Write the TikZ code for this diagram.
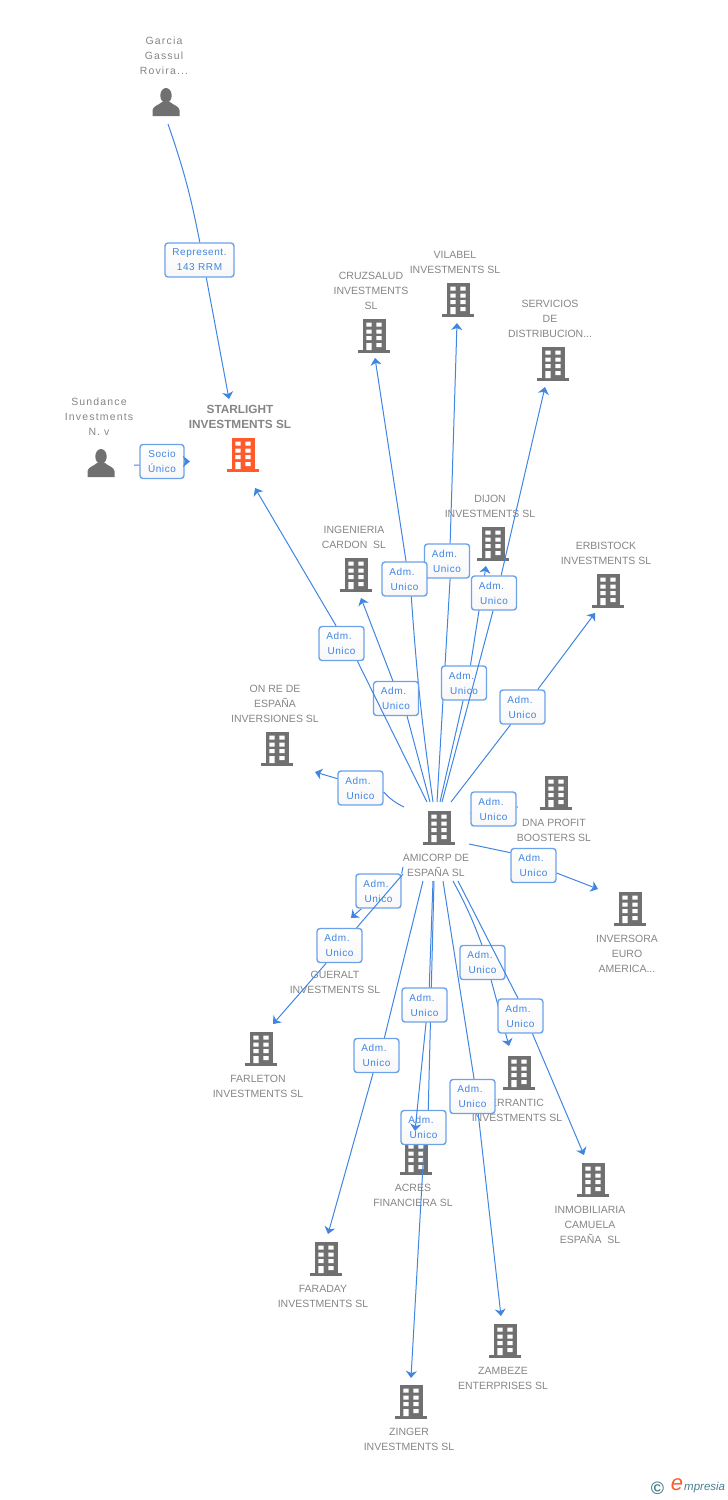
\documentclass[tikz,border=0pt]{standalone}
\usepackage{fontspec}
\setmainfont{Liberation Sans}
\newfontfamily\fontbox[LetterSpace=6]{Liberation Sans}
\newfontfamily\fontnome[LetterSpace=11]{Liberation Sans}
\usetikzlibrary{arrows.meta}
\definecolor{azzurro}{HTML}{3F85E2}
\definecolor{bordo}{HTML}{6CA2EA}
\definecolor{grigio}{HTML}{858585}
\definecolor{icona}{HTML}{707070}
\definecolor{arancio}{HTML}{FF5A2B}
\definecolor{logo}{HTML}{4A7F92}
\newcommand{\admunico}{Adm.\hspace*{5pt}\\Unico}
\tikzset{
    edificio/.pic = {
        \fill[#1] (-11.5,-17) rectangle (11.5,15);
        \fill[#1] (-16,14) rectangle (16,17);
        \fill[white] (-7.7,-13.5) rectangle (-2.4,-9.3) (2.4,-13.5) rectangle (7.7,-9.3);
        \fill[white] (-7.7,-6.5) rectangle (-2.4,-2.3) (2.4,-6.5) rectangle (7.7,-2.3);
        \fill[white] (-7.7,0) rectangle (-2.4,4.2) (2.4,0) rectangle (7.7,4.2);
        \fill[white] (-7.7,7) rectangle (-2.4,14) (2.4,7) rectangle (7.7,11.2);
    },
    pics/edificio/.default = icona,
    persona/.pic = {
        \fill[icona] (0,-6.5) ellipse (5.7 and 7.5);
        \fill[icona] (-13.5,14) -- (-13.5,8) .. controls (-13,4) and (-7,3) .. (-4,0) -- (4,0) .. controls (7,3) and (13,4) .. (13.5,8) -- (13.5,14) -- cycle;
    },
    nome/.style = {align=center, text=grigio, font=\fontsize{10.5}{15}\selectfont, inner sep=0pt, yshift=-0.7pt},
    nomeb/.style = {nome, font=\fontnome\fontsize{10.5}{15}\selectfont},
    box/.style = {draw=bordo, line width=1.4pt, rounded corners=3pt, top color=white, bottom color=white!97!black, text=azzurro, align=center, font=\fontbox\fontsize{10}{15}\selectfont, inner sep=0pt, minimum height=34pt},
    adm/.style = {box, minimum width=45pt},
    linea/.style = {draw=azzurro, line width=1pt},
    link/.style = {linea, -{Stealth[length=7pt, width=11pt, inset=2pt]}}
}
\begin{document}
\begin{tikzpicture}[x=1pt, y=-1pt]
    \useasboundingbox (0,0) rectangle (728,1500);
    % Persone
    \pic at (166,102) {persona};
    \pic at (101,463) {persona};
    \node[nomeb] (garcia) at (164,55) {Garcia\\Gassul\\Rovira...};
    \node[nomeb] (sundance) at (99,416) {Sundance\\Investments\\N. v};
    % Societa centrale
    \pic at (243,455) {edificio=arancio};
    \node[nome, font=\bfseries\fontsize{11.8}{15}\selectfont] (starlight) at (240,416.5) {STARLIGHT\\INVESTMENTS SL};
    \pic at (439,828) {edificio};
    \node[nome] (amicorp) at (436,864.5) {AMICORP DE\\ESPAÑA SL};
    % Societa sopra
    \pic at (374,336) {edificio};
    \node[nome] (cruzsalud) at (371,290) {CRUZSALUD\\INVESTMENTS\\SL};
    \pic at (458,300) {edificio};
    \node[nome] (vilabel) at (455,261.5) {VILABEL\\INVESTMENTS SL};
    \pic at (553,364) {edificio};
    \node[nome] (servicios) at (550,318) {SERVICIOS\\DE\\DISTRIBUCION...};
    \pic at (493,544) {edificio};
    \node[nome] (dijon) at (490,505.5) {DIJON\\INVESTMENTS SL};
    \pic at (356,575) {edificio};
    \node[nome] (ingenieria) at (354,536.5) {INGENIERIA\\CARDON\ \ SL};
    \pic at (608,591) {edificio};
    \node[nome] (erbistock) at (606,552.5) {ERBISTOCK\\INVESTMENTS SL};
    \pic at (277,749) {edificio};
    \node[nome] (onre) at (275,703) {ON RE DE\\ESPAÑA\\INVERSIONES SL};
    \pic at (556,793) {edificio};
    \node[nome] (dna) at (554,829.5) {DNA PROFIT\\BOOSTERS SL};
    % Societa sotto
    \pic at (630,909) {edificio};
    \node[nome] (inversora) at (627,953) {INVERSORA\\EURO\\AMERICA...};
    \node[nome] (gueralt) at (335,981.5) {GUERALT\\INVESTMENTS SL};
    \pic at (261,1049) {edificio};
    \node[nome] (farleton) at (258,1085.5) {FARLETON\\INVESTMENTS SL};
    \pic at (519,1073) {edificio};
    \node[nome] (errantic) at (517,1109.5) {ERRANTIC\\INVESTMENTS SL};
    \pic at (416,1158) {edificio};
    \node[nome] (acres) at (413,1194.5) {ACRES\\FINANCIERA SL};
    \pic at (593,1180) {edificio};
    \node[nome] (inmobiliaria) at (590,1224) {INMOBILIARIA\\CAMUELA\\ESPAÑA\ \ SL};
    \pic at (326,1259) {edificio};
    \node[nome] (faraday) at (323,1295.5) {FARADAY\\INVESTMENTS SL};
    \pic at (505,1341) {edificio};
    \node[nome] (zambeze) at (503,1377.5) {ZAMBEZE\\ENTERPRISES SL};
    \pic at (411,1402) {edificio};
    \node[nome] (zinger) at (409,1438.5) {ZINGER\\INVESTMENTS SL};
    % Garcia - Starlight
    \coordinate (sGarcia) at (168,124);
    \coordinate (eGarcia) at (229,399);
    \node[box, minimum width=69pt] (represent) at (199.5,260) {Represent.\\143 RRM};
    \draw[link] (sGarcia) to[bend left=4] (represent.89) (represent.-69) -- (eGarcia);
    % Sundance - Starlight
    \coordinate (sSundance) at (134,465);
    \coordinate (eSundance) at (190,461.5);
    \node[box, minimum width=44pt] (socio) at (162,461.5) {Socio\\Único};
    \draw[link] (sSundance) -- (socio.189) (socio.0) -- (eSundance);
    % Amicorp - Vilabel
    \coordinate (sVilabel) at (437,802);
    \coordinate (eVilabel) at (457,323);
    \node[adm] (admVilabel) at (447,561) {\admunico};
    \draw[link] (sVilabel) -- (admVilabel.-80) (admVilabel.80) -- (eVilabel);
    % Amicorp - Cruzsalud
    \coordinate (sCruzsalud) at (433,802);
    \coordinate (eCruzsalud) at (375,358);
    \node[adm] (admCruzsalud) at (404.5,579) {\admunico};
    \draw[link] (sCruzsalud) to[bend left=2] (admCruzsalud.-69) (admCruzsalud.85) -- (eCruzsalud);
    % Amicorp - Ingenieria
    \coordinate (sIngenieria) at (430,802);
    \coordinate (eIngenieria) at (361,598);
    \node[adm] (admIngenieria) at (396,698.5) {\admunico};
    \draw[link] (sIngenieria) -- (admIngenieria.-58) (admIngenieria.100) -- (eIngenieria);
    % Amicorp - Starlight
    \coordinate (sStarlight) at (427,802);
    \coordinate (eStarlight) at (255,488);
    \node[adm] (admStarlight) at (341.5,643.5) {\admunico};
    \draw[link] (sStarlight) -- (admStarlight.-48.5) (admStarlight.107.4) -- (eStarlight);
    % Amicorp - Dijon
    \coordinate (sDijon) at (440,802);
    \coordinate (eDijon) at (486,566);
    \node[adm] (admDijon) at (464,683) {\admunico};
    \draw[link] (sDijon) -- (admDijon.-93) (admDijon.70.6) -- (eDijon);
    % Amicorp - Servicios
    \coordinate (sServicios) at (442,802);
    \coordinate (eServicios) at (545,387);
    \node[adm] (admServicios) at (494,593) {\admunico};
    \draw[link] (sServicios) -- (admServicios.-93) (admServicios.68) -- (eServicios);
    % Amicorp - Erbistock
    \coordinate (sErbistock) at (451,802);
    \coordinate (eErbistock) at (595,613);
    \node[adm] (admErbistock) at (522.5,707) {\admunico};
    \draw[link] (sErbistock) -- (admErbistock.-124) (admErbistock.49.5) -- (eErbistock);
    % Amicorp - On Re
    \coordinate (sOnre) at (404,807);
    \coordinate (eOnre) at (315,772);
    \node[adm] (admOnre) at (360.5,788) {\admunico};
    \draw[link] (sOnre) to[bend left=10] (admOnre.-10) (admOnre.158) -- (eOnre);
    % Amicorp - DNA
    \coordinate (sDna) at (470,813);
    \coordinate (eDna) at (518,807);
    \node[adm] (admDna) at (493.5,809) {\admunico};
    \draw[linea] (sDna) -- (admDna.190) (admDna.5) -- (eDna);
    % Amicorp - Inversora
    \coordinate (sInversora) at (469,844);
    \coordinate (eInversora) at (598,889);
    \node[adm] (admInversora) at (533.5,865.5) {\admunico};
    \draw[link] (sInversora) -- (admInversora.151) (admInversora.-18.4) -- (eInversora);
    % Amicorp - Gueralt
    \coordinate (sGueralt) at (403,867);
    \coordinate (eGueralt) at (351,918);
    \node[adm] (admGueralt) at (378.5,891) {\admunico};
    \draw[link] (sGueralt) -- (admGueralt.37) (admGueralt.-134) -- (eGueralt);
    % Amicorp - Farleton
    \coordinate (sFarleton) at (403,874);
    \coordinate (eFarleton) at (273,1024);
    \node[adm] (admFarleton) at (339.5,945.5) {\admunico};
    \draw[link] (sFarleton) -- (admFarleton.46.7) (admFarleton.-127.6) -- (eFarleton);
    % Amicorp - Errantic
    \coordinate (sErrantic) at (453,881);
    \coordinate (eErrantic) at (509,1046);
    \node[adm] (admErrantic) at (482.5,962.5) {\admunico};
    \draw[link] (sErrantic) to[bend left=4] (admErrantic.92) (admErrantic.-64) -- (eErrantic);
    % Amicorp - Inmobiliaria
    \coordinate (sInmobiliaria) at (458,881);
    \coordinate (eInmobiliaria) at (584,1155);
    \node[adm] (admInmobiliaria) at (520.5,1016) {\admunico};
    \draw[link] (sInmobiliaria) -- (admInmobiliaria.98) (admInmobiliaria.-56) -- (eInmobiliaria);
    % Amicorp - Zinger
    \coordinate (sZinger) at (434,881);
    \coordinate (eZinger) at (411,1378);
    \node[adm] (admZinger) at (423.5,1127.5) {\admunico};
    \draw[link] (sZinger) -- (admZinger.75.6) (admZinger.-88) -- (eZinger);
    % Amicorp - Zambeze
    \coordinate (sZambeze) at (443,881);
    \coordinate (eZambeze) at (501,1316);
    \node[adm] (admZambeze) at (472.5,1096.5) {\admunico};
    \draw[link] (sZambeze) -- (admZambeze.85) (admZambeze.-72.6) -- (eZambeze);
    % Amicorp - Faraday
    \coordinate (sFaraday) at (423,881);
    \coordinate (eFaraday) at (328,1234);
    \node[adm] (admFaraday) at (376.5,1055.5) {\admunico};
    \draw[link] (sFaraday) -- (admFaraday.66.8) (admFaraday.-101) -- (eFaraday);
    % Amicorp - Acres
    \coordinate (sAcres) at (433,881);
    \coordinate (eAcres) at (415,1131);
    \node[adm] (admAcres) at (424.5,1005) {\admunico};
    \draw[link] (sAcres) -- (admAcres.75) (admAcres.-85) -- (eAcres);
    % Logo
    \node[text=logo, font=\bfseries\fontsize{18}{18}\selectfont, inner sep=0pt] (copyright) at (657.5,1488.5) {©};
    \node[text=arancio, font=\itshape\fontsize{22}{22}\selectfont, inner sep=0pt] (logoe) at (677,1485) {e};
    \node[text=logo, font=\itshape\fontsize{11.5}{12}\selectfont, inner sep=0pt, anchor=west] (empresia) at (684,1488) {mpresia};
\end{tikzpicture}
\end{document}
